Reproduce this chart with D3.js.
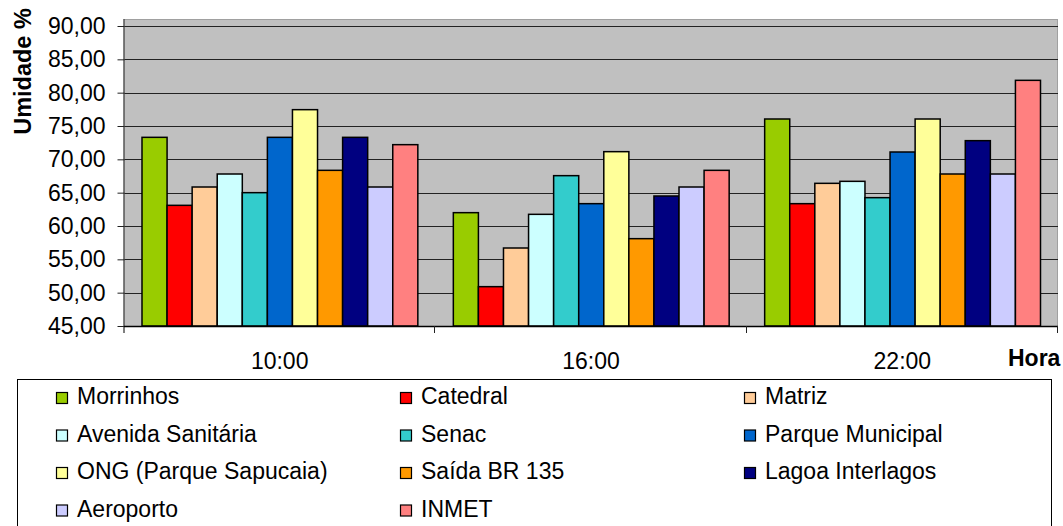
<!DOCTYPE html>
<html><head><meta charset="utf-8">
<script src="https://cdn.jsdelivr.net/npm/d3@7/dist/d3.min.js"></script>
<style>html,body{margin:0;padding:0;background:#fff;}svg{display:block;} text{font-family:"Liberation Sans",Arial,sans-serif !important;}</style>
</head><body>
<svg id="c" width="1063" height="526"></svg>
<script>
const categories = ["10:00", "16:00", "22:00"];
const seriesNames = ["Morrinhos","Catedral","Matriz","Avenida Sanitária","Senac","Parque Municipal","ONG (Parque Sapucaia)","Saída BR 135","Lagoa Interlagos","Aeroporto","INMET"];
const seriesColors = ["#99CC00","#FF0000","#FFCC99","#CCFFFF","#33CCCC","#0066CC","#FFFF99","#FF9900","#000080","#CCCCFF","#FF8080"];
const values10 = [73.3, 63.1, 65.85, 67.8, 65.0, 73.3, 77.45, 68.35, 73.3, 65.85, 72.2];
const values16 = [62.0, 50.9, 56.7, 61.75, 67.55, 63.35, 71.15, 58.1, 64.5, 65.85, 68.35];
const values22 = [76.05, 63.35, 66.4, 66.7, 64.25, 71.1, 76.05, 67.8, 72.8, 67.8, 81.85];
const yTicks = [45,50,55,60,65,70,75,80,85,90];
const yTitle = "Umidade %";
const xTitle = "Hora";

const valuesByCat = [values10, values16, values22];
const svg = d3.select("#c");
const L = 124, R = 1058, T = 19, B = 326;
const fs = 23;

const y = d3.scaleLinear().domain([45, 90]).range([B, 26]);
const x0 = d3.scaleBand().domain(categories).range([L, R]).padding(0);
const x1 = d3.scaleBand().domain(seriesNames).range([18, x0.bandwidth() - 17.5]).padding(0);

svg.append("rect").attr("x", L).attr("y", T).attr("width", R - L).attr("height", B - T).attr("fill", "#C0C0C0");
svg.append("line").attr("x1", L).attr("x2", R).attr("y1", T + 0.5).attr("y2", T + 0.5).attr("stroke", "#a0a0a0");
svg.append("line").attr("x1", R - 0.5).attr("x2", R - 0.5).attr("y1", T).attr("y2", B).attr("stroke", "#a0a0a0");

svg.append("g").selectAll("line").data(yTicks.filter(d => d > 45)).join("line")
  .attr("x1", L).attr("x2", R)
  .attr("y1", d => Math.round(y(d)) + 0.5).attr("y2", d => Math.round(y(d)) + 0.5)
  .attr("stroke", "#222").attr("stroke-width", 1);

const groups = svg.append("g").selectAll("g").data(categories).join("g")
  .attr("transform", d => `translate(${x0(d)},0)`);
groups.selectAll("rect").data((c, i) => seriesNames.map((s, j) => ({s, j, v: valuesByCat[i][j]}))).join("rect")
  .attr("x", d => x1(d.s)).attr("width", x1.bandwidth())
  .attr("y", d => y(d.v)).attr("height", d => B - y(d.v))
  .attr("fill", d => seriesColors[d.j]).attr("stroke", "#000").attr("stroke-width", 1.5);

const yAxis = d3.axisLeft(y).tickValues(yTicks).tickSize(7).tickPadding(12)
  .tickFormat(d => d3.format(".2f")(d).replace(".", ","));
const ya = svg.append("g").attr("transform", `translate(${L + 0.5},0)`).call(yAxis);
ya.select(".domain").attr("d", `M-0.5,${T}V${B + 7}`).attr("stroke", "#555").attr("stroke-width", 1.5);
ya.selectAll(".tick line").attr("stroke", "#222");
ya.selectAll(".tick text").attr("font-size", fs).attr("fill", "#000");

const xa = svg.append("g").attr("transform", `translate(0,${B})`);
xa.append("line").attr("x1", L).attr("x2", R).attr("y1", 0.5).attr("y2", 0.5).attr("stroke", "#000").attr("stroke-width", 1.5);
xa.selectAll("line.tk").data(categories.slice(1).concat(["end"])).join("line").attr("class", "tk")
  .attr("x1", (d, i) => Math.round(L + x0.bandwidth() * (i + 1)) - 0.5)
  .attr("x2", (d, i) => Math.round(L + x0.bandwidth() * (i + 1)) - 0.5)
  .attr("y1", 0).attr("y2", 7).attr("stroke", "#222");
xa.selectAll("text").data(categories).join("text")
  .attr("x", d => x0(d) + x0.bandwidth() / 2).attr("y", 43)
  .attr("text-anchor", "middle").attr("font-size", fs).text(d => d);

svg.append("text").attr("transform", "translate(31,71.5) rotate(-90)")
  .attr("text-anchor", "middle").attr("font-weight", "bold").attr("font-size", 23.5).text(yTitle);
svg.append("text").attr("x", 1008).attr("y", 366).attr("font-weight", "bold").attr("font-size", fs).text(xTitle);

svg.append("rect").attr("x", 17.5).attr("y", 379.5).attr("width", 1034).attr("height", 160)
  .attr("fill", "#fff").attr("stroke", "#000").attr("stroke-width", 1);
const colX = [56, 400, 744];
const leg = svg.append("g").selectAll("g").data(seriesNames).join("g")
  .attr("transform", (d, i) => `translate(${colX[i % 3]},${404 + Math.floor(i / 3) * 37.5})`);
leg.append("rect").attr("x", 0.5).attr("y", -11.5).attr("width", 11).attr("height", 11)
  .attr("fill", (d, i) => seriesColors[i]).attr("stroke", "#000").attr("stroke-width", 1.2);
leg.append("text").attr("x", 21).attr("y", 0).attr("font-size", fs).text(d => d);
</script>
</body></html>
